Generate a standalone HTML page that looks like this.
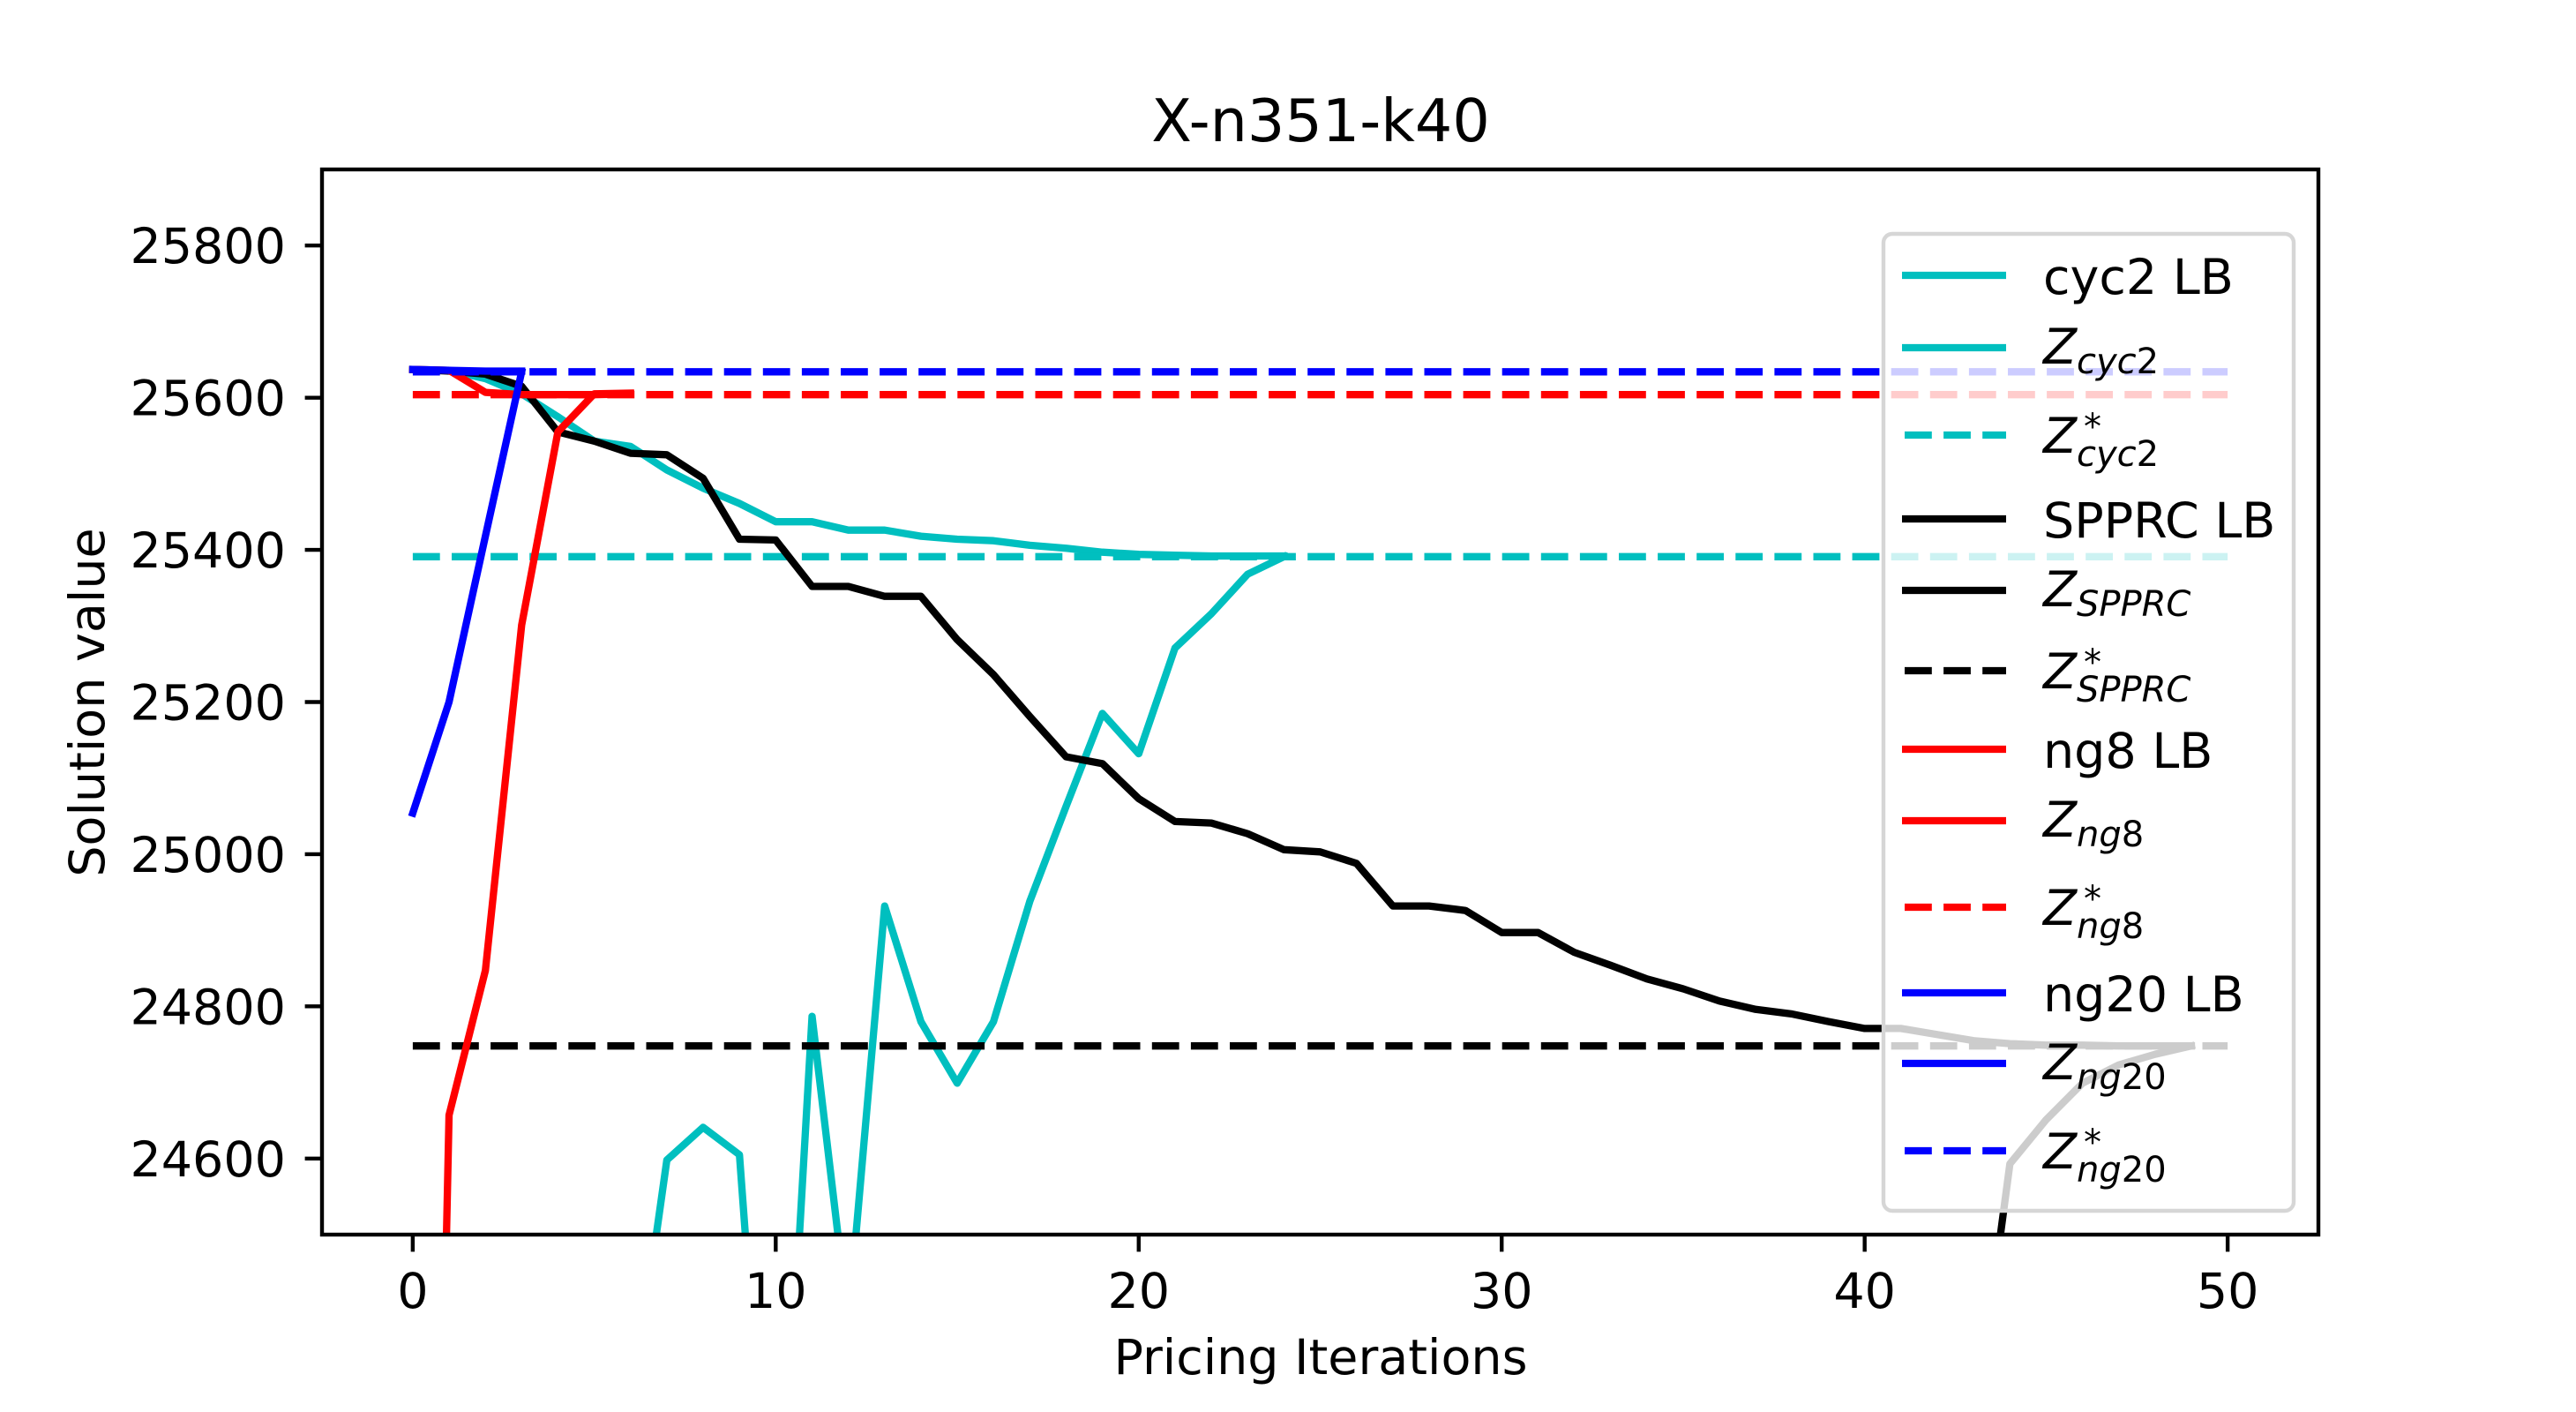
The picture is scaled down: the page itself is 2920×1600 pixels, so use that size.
<!DOCTYPE html>
<html><head><meta charset="utf-8"><style>
html,body{margin:0;padding:0;background:#fff;width:2920px;height:1600px;overflow:hidden;}
svg{display:block;font-family:"DejaVu Sans","Liberation Sans",sans-serif;}
</style></head><body>
<svg id="chart" width="2920" height="1600" viewBox="0 0 2920 1600" xmlns="http://www.w3.org/2000/svg">
<defs><clipPath id="plotclip"><rect x="365" y="192" width="2263" height="1207"/></clipPath></defs>
<rect x="0" y="0" width="2920" height="1600" fill="#fff"/>
<text x="1497" y="160" font-size="66.7" text-anchor="middle">X-n351-k40</text>
<text x="1497" y="1557" font-size="55.5" text-anchor="middle">Pricing Iterations</text>
<text x="0" y="0" font-size="55.5" text-anchor="middle" transform="translate(118,796) rotate(-90)">Solution value</text>
<g id="series" clip-path="url(#plotclip)"></g>
<g id="axes"></g>
<g id="legend"></g>
</svg>
<script>
const xTicks = [0, 10, 20, 30, 40, 50];
const yTicks = [24600, 24800, 25000, 25200, 25400, 25600, 25800];
const cyc2LB = [25637,25636,25625,25605,25575,25543,25536,25505,25481,25461,25437,25437,25426,25426,25418,25414,25412,25406,25402,25397,25394,25393,25392,25392,25392];
const zCyc2 = [23000,23100,23200,23400,23600,23900,24260,24598,24641,24605,23958,24787,24385,24932,24780,24699,24780,24938,25063,25185,25132,25271,25316,25368,25391];
const zCyc2Star = [25391, 25391];
const spprcLB = [25637,25635,25631,25615,25555,25543,25527,25525,25494,25414,25413,25352,25352,25339,25339,25282,25236,25181,25128,25119,25073,25043,25041,25027,25006,25003,24988,24932,24932,24926,24897,24897,24871,24854,24836,24823,24807,24796,24790,24780,24771,24771,24763,24755,24751,24749,24749,24748,24748,24748];
const zSpprc = [19000,19100,19300,19500,19700,19900,20100,20300,20500,20700,20900,21100,21300,21500,21700,21900,22050,22200,22350,22500,22650,22800,22950,23100,23250,23400,23500,23600,23700,23800,23850,23900,23950,24000,24040,24080,24120,24150,24180,24200,24210,24220,24230,24235,24593,24651,24699,24723,24737,24748];
const zSpprcStar = [24748, 24748];
const ng8LB = [25637,25636,25607,25604,25604,25604,25605];
const zNg8 = [22414,24657,24847,25301,25555,25605,25606];
const zNg8Star = [25604, 25604];
const ng20LB = [25637,25636,25635,25635];
const zNg20 = [25054,25200,25418,25634];
const zNg20Star = [25634, 25634];
const starX = [0, 50];

const X0=365, X1=2628, Y0=192, Y1=1399, XMIN=-2.5, XMAX=52.5, YMIN=24500, YMAX=25900;
function xs(v){return X0+(v-XMIN)/(XMAX-XMIN)*(X1-X0);}
function ys(v){return Y1-(v-YMIN)/(YMAX-YMIN)*(Y1-Y0);}
const NS="http://www.w3.org/2000/svg";
function mk(tag, attrs, parent){const e=document.createElementNS(NS,tag);for(const k in attrs)e.setAttribute(k,attrs[k]);parent.appendChild(e);return e;}

const seriesG=document.getElementById('series');
const C='#00bfbf',K='#000000',R='#ff0000',B='#0000ff';
const seriesList=[
 ['cyc2-lb-line',null,cyc2LB,C,false],
 ['z-cyc2-line',null,zCyc2,C,false],
 ['z-cyc2-star-line',starX,zCyc2Star,C,true],
 ['sprc-lb-line',null,spprcLB,K,false],
 ['z-spprc-line',null,zSpprc,K,false],
 ['z-spprc-star-line',starX,zSpprcStar,K,true],
 ['ng8-lb-line',null,ng8LB,R,false],
 ['z-ng8-line',null,zNg8,R,false],
 ['z-ng8-star-line',starX,zNg8Star,R,true],
 ['ng20-lb-line',null,ng20LB,B,false],
 ['z-ng20-line',null,zNg20,B,false],
 ['z-ng20-star-line',starX,zNg20Star,B,true]
];
seriesList.forEach(s=>{
  const vals=s[2];
  const d=vals.map((v,i)=>(i?'L':'M')+xs(s[1]?s[1][i]:i).toFixed(1)+','+ys(v).toFixed(1)).join(' ');
  const p=mk('path',{d:d,fill:'none',stroke:s[3],'stroke-width':8.3,'stroke-linejoin':'round','stroke-linecap':s[4]?'butt':'square'},seriesG);
  if(s[4]) p.setAttribute('stroke-dasharray','30.8 13.3');
  
  
});

const axesG=document.getElementById('axes');
const frame=mk('rect',{x:X0,y:Y0,width:X1-X0,height:Y1-Y0,fill:'none',stroke:'#000','stroke-width':4.4},axesG);


xTicks.forEach(t=>{
  const x=xs(t);
  const tk=mk('line',{x1:x,y1:Y1,x2:x,y2:Y1+19.4,stroke:'#000','stroke-width':4.4},axesG);
  
  
  const tl=mk('text',{x:x,y:1482,'font-size':55.5,'text-anchor':'middle'},axesG);
  tl.textContent=String(t);
  
  
});
yTicks.forEach(t=>{
  const y=ys(t);
  const tk=mk('line',{x1:X0-19.4,y1:y,x2:X0,y2:y,stroke:'#000','stroke-width':4.4},axesG);
  
  
  const tl=mk('text',{x:324,y:y+20,'font-size':55.5,'text-anchor':'end'},axesG);
  tl.textContent=String(t);
  
  
});

const legG=document.getElementById('legend');
const box=mk('rect',{x:2135,y:265,width:465,height:1107,rx:10,ry:10,fill:'#fff','fill-opacity':0.8,stroke:'#d6d6d6','stroke-width':4.4},legG);


const rowsY=[312,394,493,588,669,760,849,930,1028,1125,1205,1304];
const legendItems=[
 ['plain','cyc2 LB',C,false],['z','cyc2',C,false],['zs','cyc2',C,true],
 ['plain','SPPRC LB',K,false],['z','SPPRC',K,false],['zs','SPPRC',K,true],
 ['plain','ng8 LB',R,false],['z','ng8',R,false],['zs','ng8',R,true],
 ['plain','ng20 LB',B,false],['z','ng20',B,false],['zs','ng20',B,true]
];
legendItems.forEach((it,i)=>{
  const ly=rowsY[i];
  const g=mk('g',{},legG);
  
  
  const h=mk('line',{x1:2156,y1:ly,x2:2274,y2:ly,stroke:it[2],'stroke-width':8.3},g);
  if(it[3]){h.setAttribute('stroke-dasharray','30.8 13.3');h.setAttribute('x1',2159);}
  
  
  const sub=it[1].replace(/(\d+)$/,'<tspan font-style="normal">$1</tspan>');
  let t;
  if(it[0]==='plain'){
    t=mk('text',{x:2316,y:ly+21,'font-size':55.5},g);
    t.textContent=it[1];
  } else if(it[0]==='z'){
    t=mk('text',{x:2316,y:ly+18,'font-size':55.5},g);
    t.innerHTML='<tspan font-style="italic">Z</tspan><tspan font-style="italic" font-size="40" x="2354" y="'+(ly+29)+'">'+sub+'</tspan>';
  } else {
    t=mk('text',{x:2316,y:ly+20,'font-size':55.5},g);
    t.innerHTML='<tspan font-style="italic">Z</tspan><tspan font-size="40" x="2362" y="'+(ly+4)+'">*</tspan><tspan font-style="italic" font-size="40" x="2354" y="'+(ly+35)+'">'+sub+'</tspan>';
  }
  
  
});
</script>
</body></html>
